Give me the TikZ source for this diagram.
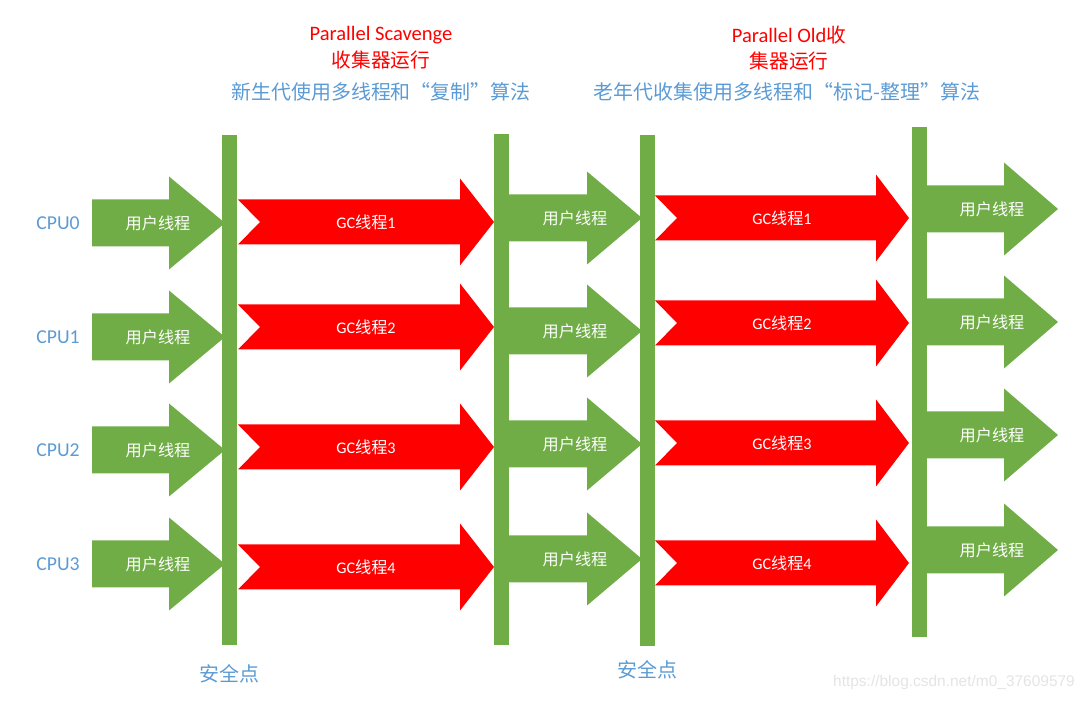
\documentclass[tikz,border=0pt]{standalone}
\usepackage{fontspec}
\setmainfont{Noto Sans CJK SC}
\newfontfamily\lat{Carlito}
\newfontfamily\urlfont{Liberation Sans}
\usetikzlibrary{positioning}
\definecolor{cgreen}{HTML}{70AD47}
\definecolor{cred}{HTML}{FF0000}
\definecolor{cblue}{HTML}{5B9BD5}
\definecolor{cmark}{HTML}{E4E4E4}

\begin{document}
\begin{tikzpicture}[x=0.025cm, y=-0.025cm,
  safept/.style={fill=cgreen, inner sep=0pt, outer sep=0pt, minimum width=0.375cm, minimum height=12.75cm},
  lbl/.style={font=\fontsize{11.5}{13}\selectfont, text=white, inner sep=0pt},
  cpu/.style={font=\lat\fontsize{14}{16}\selectfont, text=cblue},
  title/.style={font=\fontsize{14}{16}\selectfont, text=cred},
  note/.style={font=\fontsize{14.2}{16}\selectfont, text=cblue}]

  \useasboundingbox (0,0) rectangle (1087,701);

  % safe points
  \node[safept] (sp1) at (229.5,390) {};
  \node[safept] (sp2) at (501.5,389.5) {};
  \node[safept] (sp3) at (647.5,390.5) {};
  \node[safept] (sp4) at (919.5,382) {};
  \node[note, below=3.5mm of sp1] (safe1) {安全点};
  \node[note, below=2.5mm of sp3] (safe2) {安全点};

  % user threads, first run
  \foreach \y [count=\i from 0] in {223,337,450,564}{
    \fill[cgreen] (92,\y-23.5) -- (169,\y-23.5) -- (169,\y-46.5) -- (225,\y)
      -- (169,\y+46.5) -- (169,\y+23.5) -- (92,\y+23.5) -- cycle;
    \node[lbl] (ua\i) at (158,\y) {用户线程};
    \node[cpu] (cpu\i) at (58,\y) {CPU\i};
  }

  % Parallel Scavenge
  \foreach \y [count=\i] in {222,327,447,567}{
    \fill[cred] (238,\y-22.5) -- (460,\y-22.5) -- (460,\y-43.5) -- (494,\y)
      -- (460,\y+43.5) -- (460,\y+22.5) -- (238,\y+22.5) -- (260,\y) -- cycle;
    \node[lbl] (gca\i) at (366,\y) {{\lat GC}线程{\lat\i}};
  }

  % user threads, second run
  \foreach \y [count=\i from 0] in {218,331,444,559}{
    \fill[cgreen] (509,\y-23.5) -- (587,\y-23.5) -- (587,\y-46.5) -- (642,\y)
      -- (587,\y+46.5) -- (587,\y+23.5) -- (509,\y+23.5) -- cycle;
    \node[lbl] (ub\i) at (575,\y) {用户线程};
  }

  % Parallel Old
  \foreach \y [count=\i] in {218,323,443,563}{
    \fill[cred] (655,\y-22.5) -- (876,\y-22.5) -- (876,\y-43.5) -- (909,\y)
      -- (876,\y+43.5) -- (876,\y+22.5) -- (655,\y+22.5) -- (677,\y) -- cycle;
    \node[lbl] (gcb\i) at (782,\y) {{\lat GC}线程{\lat\i}};
  }

  % user threads, third run
  \foreach \y [count=\i from 0] in {209,322,435,550}{
    \fill[cgreen] (927,\y-23.5) -- (1004,\y-23.5) -- (1004,\y-46.5) -- (1058,\y)
      -- (1004,\y+46.5) -- (1004,\y+23.5) -- (927,\y+23.5) -- cycle;
    \node[lbl] (uc\i) at (992,\y) {用户线程};
  }

  % titles
  \node[title] (psa) at (381,35) {{\lat\fontsize{14.6}{16}\selectfont Parallel Scavenge}};
  \node[title] (psb) at (381,60) {收集器运行};
  \node[note] (psc) at (381,92) {新生代使用多线程和“复制”算法};
  \node[title] (poa) at (789,35) {{\lat\fontsize{14.6}{16}\selectfont Parallel Old}收};
  \node[title] (pob) at (789,61) {集器运行};
  \node[note] (poc) at (787,92) {老年代收集使用多线程和“标记-整理”算法};

  \node[font=\urlfont\fontsize{11}{12}\selectfont, text=cmark] (wm) at (954,683) {https://blog.csdn.net/m0\_37609579};
\end{tikzpicture}
\end{document}
